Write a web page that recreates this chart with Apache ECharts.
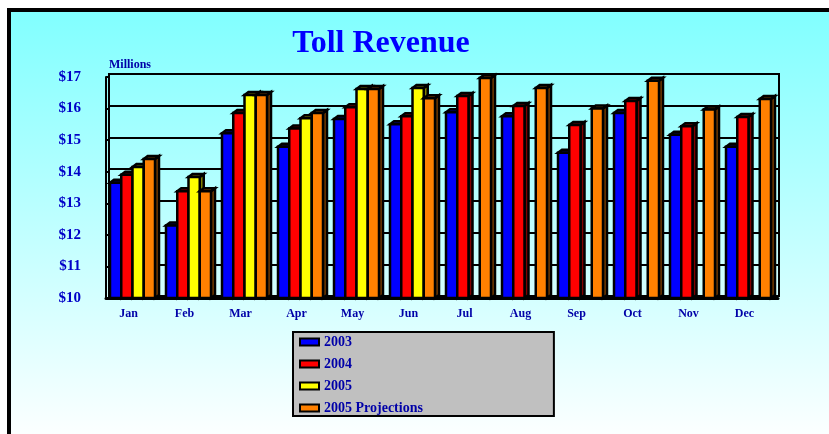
<!DOCTYPE html>
<html><head><meta charset="utf-8">
<style>html,body{margin:0;padding:0;background:#fff}#c{width:829px;height:434px}</style>
<script src="https://cdn.jsdelivr.net/npm/echarts@6/dist/echarts.min.js"></script>
</head><body><div id="c"></div>
<script>
const categories=['Jan','Feb','Mar','Apr','May','Jun','Jul','Aug','Sep','Oct','Nov','Dec'];
const v2003=[13.65,12.3,15.22,14.79,15.67,15.5,15.88,15.76,14.6,15.86,15.17,14.79];
const v2004=[13.9,13.38,15.86,15.37,16.04,15.76,16.4,16.08,15.48,16.24,15.44,15.73];
const v2005=[14.15,13.83,16.43,15.69,16.62,16.65,null,null,null,null,null,null];
const vProj=[14.4,13.38,16.43,15.86,16.62,16.33,16.97,16.65,16.0,16.88,15.97,16.3];
const seriesNames=['2003','2004','2005','2005 Projections'];
const faceColors=['#0000ff','#ff0000','#ffff00','#ff8000'];
const sideColors=['#000080','#800000','#808000','#804000'];
const yMin=10,yMax=17;

const DX=4,DY=-3,BW=11.25;
function makeRender(idx){
  return function(params,api){
    const i=api.value(0),v=api.value(1);
    const top=api.coord([i,v]),base=api.coord([i,yMin]);
    const x0=top[0]-24+idx*BW,x1=x0+BW,yt=top[1],yb=base[1];
    const st={stroke:'#000',lineWidth:2.5,lineJoin:'miter'};
    return {type:'group',children:[
      {type:'polygon',shape:{points:[[x1,yt],[x1+DX,yt+DY],[x1+DX,yb+DY],[x1,yb]]},style:{fill:sideColors[idx],...st}},
      {type:'polygon',shape:{points:[[x0,yt],[x0+DX,yt+DY],[x1+DX,yt+DY],[x1,yt]]},style:{fill:sideColors[idx],...st}},
      {type:'rect',shape:{x:x0,y:yt,width:BW,height:yb-yt},style:{fill:faceColors[idx],...st}}
    ]};
  };
}
const pts=a=>a.map((v,i)=>v==null?null:[i,v]).filter(Boolean);
const allData=[v2003,v2004,v2005,vProj];

const chart=echarts.init(document.getElementById('c'),null,{renderer:'canvas'});
chart.setOption({
  animation:false,
  textStyle:{fontFamily:'"Liberation Serif"'},
  graphic:[{type:'rect',z:-10,silent:true,shape:{x:9,y:10,width:830,height:434},
    style:{fill:new echarts.graphic.LinearGradient(0,0,0,1,[{offset:0,color:'#80ffff'},{offset:1,color:'#ffffff'}]),stroke:'#000',lineWidth:4}}],
  title:{text:'Toll Revenue',left:376,top:23,textAlign:'center',
    textStyle:{color:'#0000ff',fontSize:32,fontWeight:'bold',fontFamily:'"Liberation Serif"'}},
  legend:{orient:'vertical',left:293,top:332,icon:'rect',itemWidth:19,itemHeight:7,itemGap:6,
    data:seriesNames,backgroundColor:'#c0c0c0',borderColor:'#000',borderWidth:2,borderRadius:0,
    padding:[2,131,0,6],
    itemStyle:{borderColor:'#000',borderWidth:2},
    textStyle:{color:'#0000a8',fontSize:14,fontWeight:'bold',fontFamily:'"Liberation Serif"',padding:[4,0,0,0],height:12,lineHeight:12}},
  grid:[
    {left:106,right:51,top:77,height:221,containLabel:false},
    {show:true,left:109,right:50,top:74,height:222,borderColor:'#000',borderWidth:2,backgroundColor:'transparent'}
  ],
  xAxis:[
    {type:'category',gridIndex:0,data:categories,axisTick:{show:false},
     axisLine:{lineStyle:{color:'#000',width:3}},
     axisLabel:{color:'#0000a8',fontSize:12,fontWeight:'bold',fontFamily:'"Liberation Serif"',margin:10,padding:[0,11,0,0],interval:0}},
    {type:'category',gridIndex:1,data:categories,show:false}
  ],
  yAxis:[
    {type:'value',gridIndex:0,min:yMin,max:yMax,interval:1,
     name:'Millions',nameLocation:'end',nameGap:6,
     nameTextStyle:{color:'#0000a8',fontSize:12,fontWeight:'bold',align:'left',padding:[0,0,0,3],fontFamily:'"Liberation Serif"'},
     axisLine:{show:true,lineStyle:{color:'#000',width:2}},
     axisTick:{show:true,inside:true,length:4,lineStyle:{color:'#000',width:2}},
     splitLine:{show:false},
     axisLabel:{color:'#0000c8',fontSize:15,fontWeight:'bold',fontFamily:'"Liberation Serif"',margin:25,formatter:v=>'$'+v}},
    {type:'value',gridIndex:1,min:yMin,max:yMax,interval:1,
     axisLine:{show:false},axisTick:{show:false},axisLabel:{show:false},
     splitLine:{show:true,lineStyle:{color:'#000',width:2}}}
  ],
  series:seriesNames.map((n,k)=>({
    type:'custom',name:n,xAxisIndex:0,yAxisIndex:0,clip:false,
    itemStyle:{color:faceColors[k]},
    encode:{x:0,y:1},
    data:pts(allData[k]),
    renderItem:makeRender(k),z:2
  }))
});
</script></body></html>
